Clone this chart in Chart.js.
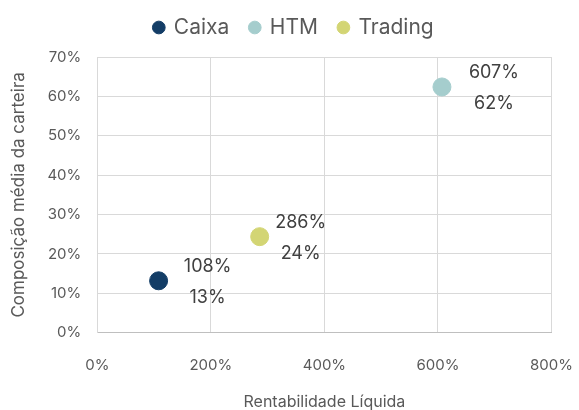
<!DOCTYPE html>
<html>
<head>
<meta charset="utf-8">
<script src="https://cdn.jsdelivr.net/npm/chart.js@4"></script>
<style>
    html, body { margin: 0; padding: 0; background: #fff; }
    #wrap { width: 579px; height: 410px; }
</style>
</head>
<body>
<div id="wrap"><canvas id="chartCarteira" width="579" height="410"></canvas></div>
<script>
const series = ["Caixa", "HTM", "Trading"];
const rentabilidade = [1.08, 6.07, 2.86];
const composicao = [0.132, 0.624, 0.244];
const cores = ["#133d66", "#a5cdcd", "#d3d574"];
const xTicks = [0, 2, 4, 6, 8];
const yTicks = [0, 0.1, 0.2, 0.3, 0.4, 0.5, 0.6, 0.7];

const FONT = "Inter, 'Open Sans', sans-serif";
const TRANSP = "rgba(0,0,0,0)";

// deslocamento horizontal dos rótulos (como no original)
const labelDx = [49, 52, 41];

function pct(v) {
    return Math.round(v * 100) + "%";
}

// desenha os rótulos de x e y à direita de cada ponto
const pointLabels = {
    id: "pointLabels",
    afterDatasetsDraw(chart) {
        const ctx = chart.ctx;
        ctx.save();
        ctx.font = "18px " + FONT;
        ctx.fillStyle = "#404040";
        ctx.textAlign = "center";
        ctx.textBaseline = "middle";
        chart.data.datasets.forEach((ds, i) => {
            const meta = chart.getDatasetMeta(i);
            meta.data.forEach((el, j) => {
                const p = ds.data[j];
                ctx.fillText(pct(p.x), el.x + labelDx[i], el.y - 14);
                ctx.fillText(pct(p.y), el.x + labelDx[i], el.y + 17);
            });
        });
        ctx.restore();
    }
};

// mais espaço entre a legenda e o gráfico
const legendGap = {
    id: "legendGap",
    beforeInit(chart) {
        const fit = chart.legend.fit;
        chart.legend.fit = function () {
            fit.bind(chart.legend)();
            this.height += 9;
        };
    }
};

const datasets = series.map((nome, i) => ({
    label: nome,
    data: [{ x: rentabilidade[i], y: composicao[i] }],
    backgroundColor: cores[i],
    borderColor: cores[i],
    pointRadius: 9,
    pointHoverRadius: 9
}));

new Chart(document.getElementById("chartCarteira"), {
    type: "scatter",
    data: { datasets },
    plugins: [pointLabels, legendGap],
    options: {
        responsive: false,
        animation: false,
        layout: { padding: { left: 9, right: 0, top: -4, bottom: -2 } },
        plugins: {
            tooltip: { enabled: false },
            legend: {
                position: "top",
                labels: {
                    usePointStyle: true,
                    pointStyle: "circle",
                    boxWidth: 9,
                    boxHeight: 9,
                    padding: 21,
                    color: "#595959",
                    font: { family: FONT, size: 21 }
                }
            }
        },
        scales: {
            x: {
                type: "linear",
                min: 0,
                max: 8,
                afterBuildTicks: axis => { axis.ticks = xTicks.map(v => ({ value: v })); },
                ticks: {
                    callback: v => pct(v),
                    color: "#595959",
                    font: { family: FONT, size: 15 },
                    padding: 6
                },
                grid: { color: "#d9d9d9", drawTicks: true, tickLength: 18, tickColor: TRANSP },
                border: { color: "#bfbfbf" },
                title: {
                    display: true,
                    text: "Rentabilidade Líquida",
                    color: "#595959",
                    font: { family: FONT, size: 16 },
                    padding: { top: 12, bottom: 0 }
                }
            },
            y: {
                type: "linear",
                min: 0,
                max: 0.7,
                afterBuildTicks: axis => { axis.ticks = yTicks.map(v => ({ value: v })); },
                ticks: {
                    callback: v => pct(v),
                    color: "#595959",
                    font: { family: FONT, size: 15 },
                    padding: 4
                },
                grid: { color: "#d9d9d9", drawTicks: true, tickLength: 12, tickColor: TRANSP },
                border: { color: "#d9d9d9" },
                title: {
                    display: true,
                    text: "Composição média da carteira",
                    color: "#595959",
                    font: { family: FONT, size: 17 },
                    padding: { top: 0, bottom: 14 }
                }
            }
        }
    }
});
</script>
</body>
</html>
